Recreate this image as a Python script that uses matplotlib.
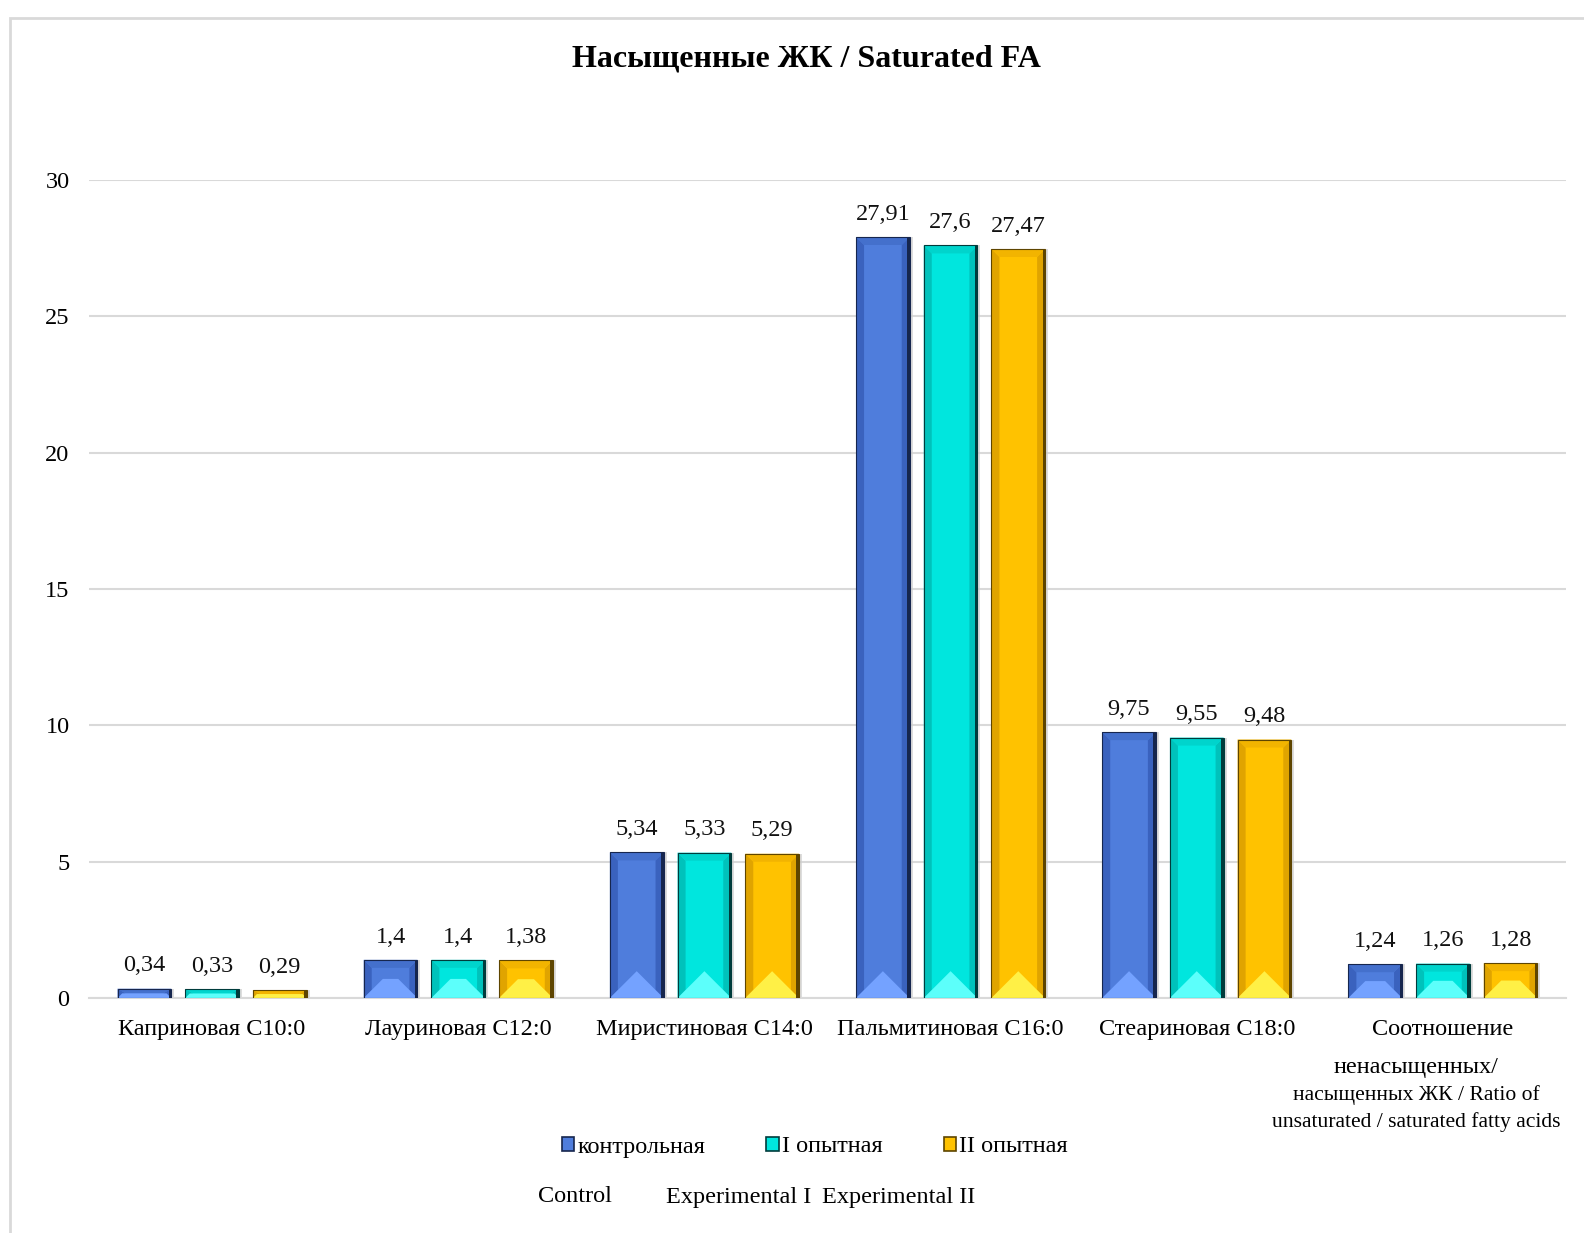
import numpy as np
import matplotlib.pyplot as plt
from matplotlib.patches import Polygon, Rectangle, Patch

plt.rcParams['font.family'] = ['Liberation Serif', 'DejaVu Serif']

categories = ["Каприновая С10:0", "Лауриновая С12:0", "Миристиновая С14:0",
              "Пальмитиновая С16:0", "Стеариновая С18:0", "Соотношение"]
last_label_lines = ["ненасыщенных/", "насыщенных ЖК / Ratio of",
                    "unsaturated / saturated fatty acids"]
control = [0.34, 1.4, 5.34, 27.91, 9.75, 1.24]
exp1 = [0.33, 1.4, 5.33, 27.6, 9.55, 1.26]
exp2 = [0.29, 1.38, 5.29, 27.47, 9.48, 1.28]
labels_ru = ["контрольная", "I опытная", "II опытная"]
labels_en = ["Control", "Experimental I", "Experimental II"]

series = [control, exp1, exp2]
# face, left side, right edge, bottom light, top
palettes = [
    dict(face="#4f7ddc", left="#3a62be", right="#16264e", bottom="#74a2ff", top="#4470cc"),
    dict(face="#00e6de", left="#00c2bb", right="#003c3c", bottom="#5cfffb", top="#00d4cc"),
    dict(face="#ffc200", left="#e0a400", right="#5e4500", bottom="#fff046", top="#f2b400"),
]

W, H = 1584, 1233
fig = plt.figure(figsize=(W / 100, H / 100), dpi=100)
ax_l, ax_r, ax_t, ax_b = 89, 1566, 180, 998
ax = fig.add_axes([ax_l / W, 1 - ax_b / H, (ax_r - ax_l) / W, (ax_b - ax_t) / H])

# chart frame
fig.add_artist(Rectangle((10 / W, -0.05), 1.2, 1 - 18 / H + 0.05, transform=fig.transFigure,
                         fill=False, edgecolor="#d9d9d9", linewidth=2))

x = np.arange(len(categories))
ax.set_xlim(-0.5, len(categories) - 0.5)
ax.set_ylim(0, 30)
sx = len(categories) / (ax_r - ax_l)   # data units per px
sy = 30 / (ax_b - ax_t)

bw = 0.218
pitch = 0.275


def bevel_bar(xc, h, pal):
    x0, x1 = xc - bw / 2, xc + bw / 2
    # shadow
    ax.add_patch(Rectangle((x0 + 3 * sx, 0), bw, h, facecolor="#cfcfcf", edgecolor="none",
                           alpha=0.7, zorder=2))
    ax.add_patch(Rectangle((x0, 0), bw, h, facecolor=pal["face"], edgecolor="none", zorder=3))
    b = 8  # bevel px
    bx = b * sx
    by = min(b * sy, h / 2)
    # left / right strips
    ax.add_patch(Polygon([(x0, 0), (x0 + bx, by), (x0 + bx, h - by), (x0, h)],
                         facecolor=pal["left"], edgecolor="none", zorder=4))
    ax.add_patch(Polygon([(x1, 0), (x1 - bx, by), (x1 - bx, h - by), (x1, h)],
                         facecolor=pal["left"], edgecolor="none", zorder=4))
    ax.add_patch(Rectangle((x1 - 2.5 * sx, 0), 2.5 * sx, h, facecolor=pal["right"],
                           edgecolor="none", zorder=5))
    # top
    ax.add_patch(Polygon([(x0, h), (x1, h), (x1 - bx, h - by), (x0 + bx, h - by)],
                         facecolor=pal["top"], edgecolor="none", zorder=4))
    # bottom light triangle / trapezoid
    half_px = bw / sx / 2
    tri_px = min(half_px, h / sy * 0.5)
    ty = tri_px * sy
    tx = tri_px * sx
    ax.add_patch(Polygon([(x0, 0), (x1, 0), (x1 - tx, ty), (x0 + tx, ty)],
                         facecolor=pal["bottom"], edgecolor="none", zorder=4))
    ax.add_patch(Rectangle((x0, 0), bw, h, facecolor="none", edgecolor=pal["right"],
                           linewidth=0.8, zorder=6))


for i, (vals, pal) in enumerate(zip(series, palettes)):
    for j, v in enumerate(vals):
        xc = x[j] + (i - 1) * pitch
        bevel_bar(xc, v, pal)
        ax.text(xc, v + 0.45, f"{v:g}".replace(".", ","), ha="center", va="bottom",
                fontsize=17.5, color="#111111", zorder=7)

ax.set_yticks([0, 5, 10, 15, 20, 25, 30])
ax.yaxis.grid(True, color="#d9d9d9", linewidth=1.5)
ax.set_axisbelow(True)
ax.tick_params(axis="y", length=0, pad=14, labelsize=17.5)
ax.tick_params(axis="x", length=0, pad=15, labelsize=17.5)
ax.set_xticks(x)
ax.set_xticklabels(categories)
for s in ["top", "right", "left"]:
    ax.spines[s].set_visible(False)
ax.spines["bottom"].set_color("#d9d9d9")
ax.spines["bottom"].set_linewidth(1.5)

# rest of the last category label, narrower lines below the tick label
for k, (line, fs) in enumerate(zip(last_label_lines, [17.5, 15.6, 15.6])):
    fig.text(1416 / W, 1 - (1068 + 27 * k) / H, line, ha="center", va="center", fontsize=fs)

fig.text(806 / W, 1 - 59 / H, "Насыщенные ЖК / Saturated FA", ha="center", va="center",
         fontsize=23, fontweight="bold")

handles = [Patch(facecolor=p["face"], edgecolor=p["right"], linewidth=1.2) for p in palettes]
fig.legend(handles, labels_ru, loc="center", bbox_to_anchor=(815 / W, 1 - 1147 / H), ncol=3,
           frameon=False, fontsize=17.5, handlelength=0.5, handleheight=0.5, handletextpad=0.15,
           columnspacing=2.5)

for lab, px in zip(labels_en, [538, 666, 822]):
    fig.text(px / W, 1 - 1197 / H, lab, ha="left", va="center", fontsize=17.5)

fig.savefig("out.png", dpi=100)
plt.close(fig)
